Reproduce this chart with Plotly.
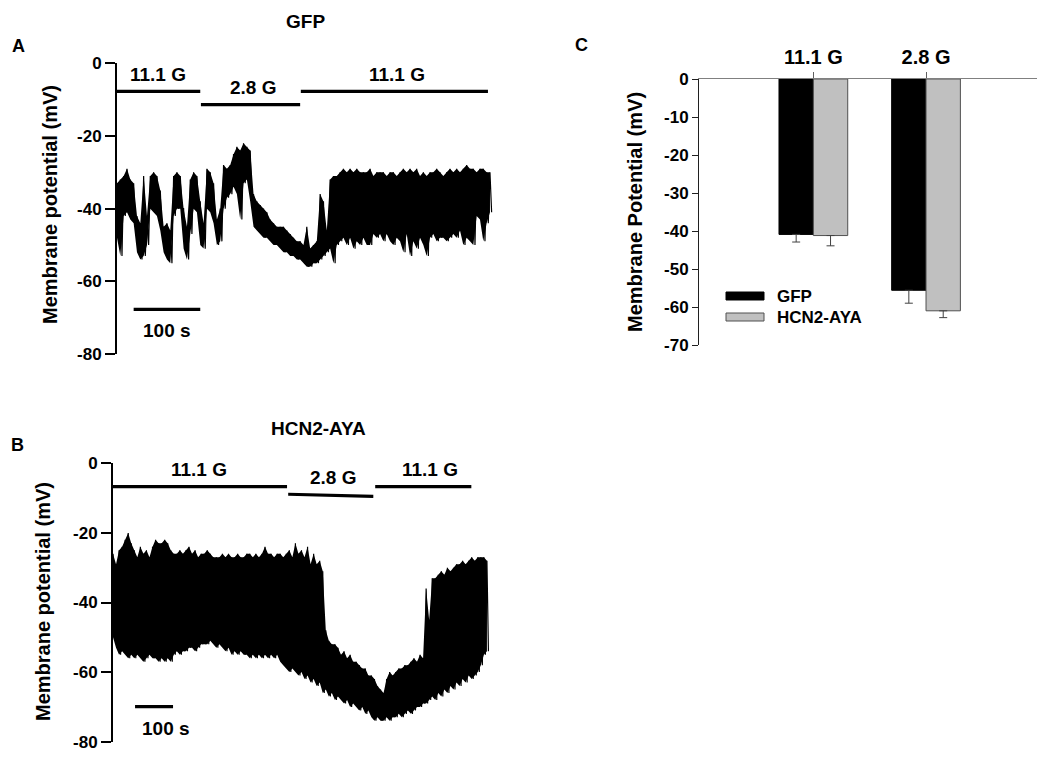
import plotly.graph_objects as go

W, H = 1050, 766
PAGE_OFFSET = 8  # the page's default body margin shifts the figure by this many px

# ---- Panel A (GFP) trace envelope, one sample every 5 s (mV) ----
gfp_step_s = 5
gfp_upper = [
    -33, -32, -31, -29, -32, -33, -42, -44, -31, -42,
    -31, -30, -31, -35, -45, -44, -46, -31, -30, -31,
    -40, -45, -32, -30, -31, -38, -44, -29, -30, -33,
    -43, -40, -28, -29, -28, -25, -23, -24, -22, -23,
    -24, -36, -38, -39, -40, -41, -43, -44, -45, -45,
    -45, -46, -47, -48, -49, -49, -50, -45, -51, -50,
    -49, -36, -38, -46, -32, -31, -31, -30, -29, -30,
    -29, -30, -29, -30, -30, -30, -29, -31, -30, -30,
    -30, -31, -30, -30, -31, -30, -29, -30, -29, -30,
    -29, -31, -30, -31, -30, -30, -29, -30, -31, -30,
    -29, -30, -29, -30, -29, -28, -29, -29, -30, -29,
    -29, -30, -30,
]
gfp_lower = [
    -48, -53, -42, -41, -43, -44, -52, -54, -53, -50,
    -40, -41, -42, -46, -52, -54, -55, -42, -40, -40,
    -51, -54, -47, -40, -41, -50, -51, -40, -41, -44,
    -50, -49, -40, -37, -36, -34, -36, -43, -33, -32,
    -38, -45, -46, -47, -48, -48, -49, -50, -50, -51,
    -52, -52, -53, -53, -54, -54, -55, -56, -56, -55,
    -55, -54, -53, -52, -51, -55, -50, -49, -48, -50,
    -48, -51, -49, -50, -48, -50, -50, -47, -48, -47,
    -49, -47, -49, -50, -48, -49, -52, -47, -53, -49,
    -51, -48, -50, -53, -48, -47, -49, -48, -48, -49,
    -48, -47, -48, -46, -50, -48, -49, -50, -42, -43,
    -49, -44, -41,
]

# ---- Panel B (HCN2-AYA) trace envelope, one sample every 8 s (mV) ----
hcn_step_s = 8
hcn_upper = [
    -26, -29, -25, -24, -22, -20, -23, -25, -27, -24,
    -26, -25, -27, -24, -22, -23, -23, -22, -23, -25,
    -26, -26, -25, -26, -25, -24, -26, -25, -27, -26,
    -26, -25, -26, -27, -27, -27, -26, -27, -26, -27,
    -27, -26, -27, -27, -26, -26, -27, -26, -27, -26,
    -24, -26, -26, -27, -26, -26, -27, -26, -25, -27,
    -23, -26, -25, -27, -24, -29, -26, -29, -28, -31,
    -48, -51, -52, -52, -53, -55, -54, -56, -55, -57,
    -57, -58, -59, -59, -61, -61, -62, -64, -65, -66,
    -62, -60, -61, -60, -59, -59, -58, -58, -57, -56,
    -57, -55, -56, -36, -45, -33, -33, -32, -31, -32,
    -30, -31, -30, -29, -29, -28, -29, -28, -27, -28,
    -27, -27, -27, -28,
]
hcn_lower = [
    -50, -53, -55, -54, -55, -56, -55, -56, -55, -56,
    -57, -56, -55, -56, -56, -57, -56, -57, -56, -57,
    -55, -54, -55, -54, -54, -53, -53, -54, -53, -52,
    -52, -52, -51, -52, -53, -52, -53, -54, -53, -55,
    -54, -55, -54, -55, -55, -56, -55, -56, -55, -56,
    -55, -56, -55, -56, -55, -57, -58, -59, -60, -59,
    -60, -61, -60, -62, -61, -63, -62, -64, -63, -66,
    -65, -67, -66, -68, -67, -68, -69, -68, -70, -69,
    -70, -71, -70, -72, -71, -73, -74, -73, -74, -74,
    -73, -74, -73, -73, -72, -73, -72, -71, -72, -71,
    -70, -70, -69, -69, -68, -67, -68, -66, -67, -65,
    -66, -64, -65, -63, -64, -62, -63, -61, -62, -61,
    -60, -58, -55, -54,
]

# ---- glucose protocol bars (s, mV) ----
gfp_steps = ["11.1 G", "2.8 G", "11.1 G"]
gfp_step_start = [0, 126, 276]
gfp_step_end = [125, 275, 557]
gfp_step_level = [-7.7, -11.4, -7.7]
gfp_label_t = [62, 204, 420]

hcn_steps = ["11.1 G", "2.8 G", "11.1 G"]
hcn_step_start = [0, 461, 690]
hcn_step_end = [458, 685, 943]
hcn_step_level_start = [-6.7, -8.9, -6.7]
hcn_step_level_end = [-6.7, -9.5, -6.7]
hcn_label_t = [226, 579, 835]

# 100 s scale bars
gfp_scale_t = [25, 125]
gfp_scale_mv = -67.7
hcn_scale_t = [58, 158]
hcn_scale_mv = -69.9

# ---- Panel C: mean membrane potential ----
conditions = ["11.1 G", "2.8 G"]
gfp_mean = [-40.9, -55.6]
gfp_sem = [2.0, 3.4]
hcn_mean = [-41.2, -61.0]
hcn_sem = [2.7, 1.8]

trace_ticks = [0, -20, -40, -60, -80]
bar_ticks = [0, -10, -20, -30, -40, -50, -60, -70]

FONT = "Liberation Sans, Arial, sans-serif"
TICKFONT = dict(family=FONT, size=17, color="black")


def px(x):
    return (x - PAGE_OFFSET) / W


def py(y):
    return 1 - (y - PAGE_OFFSET) / H


def zigzag(step, upper, lower):
    """Interleave the upper and lower envelope so the line sweeps like a dense recording."""
    xs, ys = [], []
    for i, (u, l) in enumerate(zip(upper, lower)):
        t = i * step
        xs += [t, t + step / 2]
        ys += [u, l]
    return xs, ys


def add_recording(fig, step, upper, lower, xa, ya):
    t = [i * step for i in range(len(upper))]
    # solid body of the recording
    fig.add_trace(go.Scatter(x=t, y=upper, mode="lines", line=dict(width=0, color="black"),
                             xaxis=xa, yaxis=ya, showlegend=False, hoverinfo="skip"))
    fig.add_trace(go.Scatter(x=t, y=lower, mode="lines", line=dict(width=0, color="black"),
                             fill="tonexty", fillcolor="black",
                             xaxis=xa, yaxis=ya, showlegend=False, hoverinfo="skip"))
    # spiky edge
    xs, ys = zigzag(step, upper, lower)
    fig.add_trace(go.Scatter(x=xs, y=ys, mode="lines", line=dict(color="black", width=1.2),
                             xaxis=xa, yaxis=ya, showlegend=False))


fig = go.Figure()
add_recording(fig, gfp_step_s, gfp_upper, gfp_lower, "x", "y")
add_recording(fig, hcn_step_s, hcn_upper, hcn_lower, "x2", "y2")

annotations = []


def bold(text, size, **kw):
    kw.setdefault("xanchor", "center")
    kw.setdefault("yanchor", "middle")
    return dict(text="<b>%s</b>" % text, showarrow=False,
                font=dict(family=FONT, size=size, color="black"), **kw)


# Protocol bars + labels
for i, name in enumerate(gfp_steps):
    fig.add_trace(go.Scatter(x=[gfp_step_start[i], gfp_step_end[i]], y=[gfp_step_level[i]] * 2,
                             mode="lines", line=dict(color="black", width=3.2),
                             xaxis="x", yaxis="y", showlegend=False))
    annotations.append(bold(name, 19, x=gfp_label_t[i], y=gfp_step_level[i], xref="x", yref="y",
                            yshift=17))
for i, name in enumerate(hcn_steps):
    fig.add_trace(go.Scatter(x=[hcn_step_start[i], hcn_step_end[i]],
                             y=[hcn_step_level_start[i], hcn_step_level_end[i]],
                             mode="lines", line=dict(color="black", width=3.2),
                             xaxis="x2", yaxis="y2", showlegend=False))
    annotations.append(bold(name, 19, x=hcn_label_t[i], y=hcn_step_level_start[i], xref="x2", yref="y2",
                            yshift=17))

# Scale bars
fig.add_trace(go.Scatter(x=gfp_scale_t, y=[gfp_scale_mv] * 2, mode="lines",
                         line=dict(color="black", width=3.2), xaxis="x", yaxis="y", showlegend=False))
annotations.append(bold("100 s", 19, x=sum(gfp_scale_t) / 2, y=gfp_scale_mv, xref="x", yref="y",
                        yshift=-21))
fig.add_trace(go.Scatter(x=hcn_scale_t, y=[hcn_scale_mv] * 2, mode="lines",
                         line=dict(color="black", width=3.2), xaxis="x2", yaxis="y2", showlegend=False))
annotations.append(bold("100 s", 19, x=sum(hcn_scale_t) / 2, y=hcn_scale_mv, xref="x2", yref="y2",
                        yshift=-22, xshift=12))

# Bar chart
fig.add_trace(go.Bar(x=conditions, y=gfp_mean, name="GFP",
                     marker=dict(color="black", line=dict(color="black", width=1)),
                     error_y=dict(type="data", symmetric=False, array=[0, 0], arrayminus=gfp_sem,
                                  color="#404040", thickness=1, width=4),
                     xaxis="x3", yaxis="y3", showlegend=False))
fig.add_trace(go.Bar(x=conditions, y=hcn_mean, name="HCN2-AYA",
                     marker=dict(color="#c0c0c0", line=dict(color="#505050", width=1)),
                     error_y=dict(type="data", symmetric=False, array=[0, 0], arrayminus=hcn_sem,
                                  color="#404040", thickness=1, width=4),
                     xaxis="x3", yaxis="y3", showlegend=False))

# Titles, panel letters, axis titles
annotations += [
    bold("GFP", 19, x=px(305), y=py(22), xref="paper", yref="paper"),
    bold("HCN2-AYA", 19, x=px(318), y=py(428), xref="paper", yref="paper"),
    bold("A", 18, x=px(18), y=py(46), xref="paper", yref="paper"),
    bold("B", 18, x=px(9), y=py(445), xref="paper", yref="paper", xanchor="left"),
    bold("C", 18, x=px(581), y=py(45), xref="paper", yref="paper"),
    bold("Membrane potential (mV)", 20, x=px(50), y=py(205), xref="paper", yref="paper", textangle=-90),
    bold("Membrane potential (mV)", 20, x=px(43), y=py(602), xref="paper", yref="paper", textangle=-90),
    bold("Membrane Potential (mV)", 20, x=px(635), y=py(212), xref="paper", yref="paper", textangle=-90),
    bold("GFP", 17, x=px(775), y=py(296), xref="paper", yref="paper", xanchor="left"),
    bold("HCN2-AYA", 17, x=px(775), y=py(317), xref="paper", yref="paper", xanchor="left"),
]

# Legend swatches for panel C
shapes = [
    dict(type="rect", xref="paper", yref="paper", x0=px(726), x1=px(764), y0=py(300), y1=py(292),
         fillcolor="black", line=dict(color="black", width=1)),
    dict(type="rect", xref="paper", yref="paper", x0=px(726), x1=px(764), y0=py(321), y1=py(313),
         fillcolor="#c0c0c0", line=dict(color="#505050", width=1)),
]

trace_yaxis = dict(range=[-80, 0], tickvals=trace_ticks, ticktext=["<b>%d</b>" % v for v in trace_ticks],
                   ticks="outside", ticklen=10, tickwidth=2, showline=True, linewidth=2,
                   linecolor="black", tickcolor="black", showgrid=False, zeroline=False,
                   tickfont=TICKFONT, automargin=False)

fig.update_layout(
    width=W, height=H,
    margin=dict(l=0, r=0, t=0, b=0, pad=0, autoexpand=False),
    plot_bgcolor="white", paper_bgcolor="white",
    xaxis=dict(domain=[px(117), px(117 + 565 * 0.666)], range=[0, 565], visible=False, automargin=False),
    yaxis=dict(domain=[py(354), py(63.3)], anchor="x", **trace_yaxis),
    xaxis2=dict(domain=[px(113), px(113 + 990 * 0.38)], range=[0, 990], visible=False, anchor="y2",
                automargin=False),
    yaxis2=dict(domain=[py(741.7), py(463.3)], anchor="x2", **trace_yaxis),
    xaxis3=dict(domain=[px(699), px(1037)], range=[-1.015, 1.985], anchor="y3", side="top",
                showline=True, linecolor="#808080", linewidth=1, ticks="outside", ticklen=6,
                tickcolor="#606060", showgrid=False, zeroline=False, automargin=False,
                tickvals=conditions, ticktext=["<b>%s</b>" % c for c in conditions],
                tickfont=dict(family=FONT, size=20, color="black")),
    yaxis3=dict(domain=[py(345), py(79)], anchor="x3", range=[-70, 0], tickvals=bar_ticks,
                ticktext=["<b>%d</b>" % v for v in bar_ticks], ticks="outside",
                ticklen=6, showline=True, linecolor="#202020", linewidth=1, tickcolor="#202020",
                showgrid=False, zeroline=False, tickfont=TICKFONT, automargin=False),
    barmode="group", bargap=0.39, bargroupgap=0,
    annotations=annotations,
    shapes=shapes,
)

fig.write_html("out.html")
